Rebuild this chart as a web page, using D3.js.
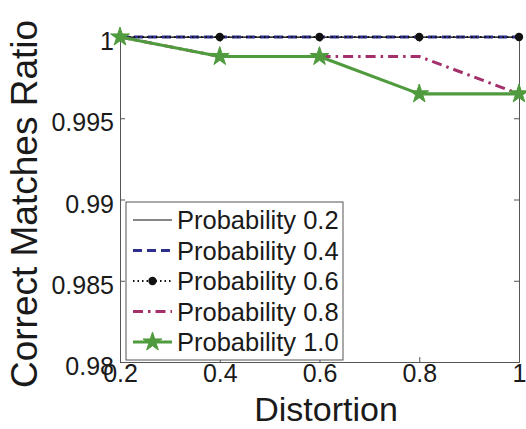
<!DOCTYPE html>
<html>
<head>
<meta charset="utf-8">
<script src="https://cdn.jsdelivr.net/npm/d3@7"></script>
<style>
  html, body { margin: 0; padding: 0; background: #ffffff; }
  svg { display: block; font-family: "Liberation Sans", Arial, sans-serif; }
</style>
</head>
<body>
<svg id="chart" width="526" height="429"></svg>
<script>
// Distortion levels along the x axis
const distortion = [0.2, 0.4, 0.6, 0.8, 1.0];

// Correct matches ratio for each probability setting
const prob02 = [1, 1, 1, 1, 1];
const prob04 = [1, 1, 1, 1, 1];
const prob06 = [1, 1, 1, 1, 1];
const prob08 = [1, 0.9988, 0.9988, 0.9988, 0.9965];
const prob10 = [1, 0.9988, 0.9988, 0.9965, 0.9965];

const seriesNames = ["Probability 0.2", "Probability 0.4", "Probability 0.6", "Probability 0.8", "Probability 1.0"];

const xTicks = [0.2, 0.4, 0.6, 0.8, 1];
const xTickLabels = ["0.2", "0.4", "0.6", "0.8", "1"];
const yTicks = [0.98, 0.985, 0.99, 0.995, 1];
const yTickLabels = ["0.98", "0.985", "0.99", "0.995", "1"];

const series = [
  { name: seriesNames[0], values: prob02, color: "#111111", width: 1.2, dash: null, marker: null },
  { name: seriesNames[1], values: prob04, color: "#2e2f8c", width: 3, dash: "9,5", marker: null },
  { name: seriesNames[2], values: prob06, color: "#111111", width: 1.8, dash: "1.5,3", marker: "dot" },
  { name: seriesNames[3], values: prob08, color: "#a3306a", width: 3, dash: "10,5,2.5,5", marker: null },
  { name: seriesNames[4], values: prob10, color: "#4f9b3e", width: 3.2, dash: null, marker: "star" }
];

const svg = d3.select("#chart");
const plotLeft = 120, plotRight = 519, plotTop = 37, plotBottom = 362;

const x = d3.scaleLinear().domain([0.2, 1]).range([plotLeft, plotRight]);
const y = d3.scaleLinear().domain([0.98, 1]).range([plotBottom, plotTop]);

const axisColor = "#555555";
const textColor = "#1a1a1a";

// Inward ticks on all four sides (box axes)
const gx = svg.append("g").attr("transform", `translate(0,${plotBottom})`)
  .call(d3.axisBottom(x).tickValues(xTicks).tickSize(-5).tickPadding(7)
    .tickFormat((d, i) => xTickLabels[i]));
const gxTop = svg.append("g").attr("transform", `translate(0,${plotTop})`)
  .call(d3.axisTop(x).tickValues(xTicks).tickSize(-5).tickFormat(""));
const gy = svg.append("g").attr("transform", `translate(${plotLeft},0)`)
  .call(d3.axisLeft(y).tickValues(yTicks).tickSize(-5).tickPadding(6)
    .tickFormat((d, i) => yTickLabels[i]));
const gyRight = svg.append("g").attr("transform", `translate(${plotRight},0)`)
  .call(d3.axisRight(y).tickValues(yTicks).tickSize(-5).tickFormat(""));

[gx, gxTop, gy, gyRight].forEach(g => {
  g.select(".domain").attr("stroke", axisColor).attr("stroke-width", 1);
  g.selectAll(".tick line").attr("stroke", axisColor).attr("stroke-width", 1);
  g.selectAll(".tick text").attr("fill", textColor).attr("font-size", 25)
    .attr("font-family", "'Liberation Sans', Arial, sans-serif");
});
gy.selectAll(".tick text").attr("dy", "0.5em");
gx.selectAll(".tick text").attr("dy", "0.52em");

// Axis titles
svg.append("text")
  .attr("x", 326).attr("y", 421)
  .attr("text-anchor", "middle")
  .attr("font-size", 34)
  .attr("fill", textColor)
  .text("Distortion");

svg.append("text")
  .attr("transform", "translate(37,204) rotate(-90)")
  .attr("text-anchor", "middle")
  .attr("font-size", 37)
  .attr("fill", textColor)
  .text("Correct Matches Ratio");

const line = d3.line().x((d, i) => x(distortion[i])).y(d => y(d));
const star = d3.symbol().type(d3.symbolStar).size(110);

function drawMarker(g, type, cx, cy, color) {
  if (type === "dot") {
    g.append("circle").attr("cx", cx).attr("cy", cy).attr("r", 4.2).attr("fill", "#111111");
  } else if (type === "star") {
    g.append("path").attr("d", star)
      .attr("transform", `translate(${cx},${cy})`)
      .attr("fill", color).attr("stroke", color).attr("stroke-width", 1);
  }
}

const plot = svg.append("g");
series.forEach(s => {
  plot.append("path")
    .datum(s.values)
    .attr("d", line)
    .attr("fill", "none")
    .attr("stroke", s.color)
    .attr("stroke-width", s.width)
    .attr("stroke-dasharray", s.dash)
    .attr("stroke-linejoin", "round");
  if (s.marker) {
    s.values.forEach((v, i) => drawMarker(plot, s.marker, x(distortion[i]), y(v), s.color));
  }
});

// Legend
const legend = svg.append("g");
legend.append("rect")
  .attr("x", 126).attr("y", 202).attr("width", 217).attr("height", 158)
  .attr("fill", "#ffffff").attr("stroke", axisColor).attr("stroke-width", 1);

const rowY = d3.scalePoint().domain(seriesNames).range([220, 342]);
series.forEach(s => {
  const ry = rowY(s.name);
  legend.append("line")
    .attr("x1", 133).attr("x2", 172).attr("y1", ry).attr("y2", ry)
    .attr("stroke", s.color).attr("stroke-width", s.width)
    .attr("stroke-dasharray", s.dash);
  if (s.marker) drawMarker(legend, s.marker, 152.5, ry, s.color);
  legend.append("text")
    .attr("x", 177).attr("y", ry).attr("dy", "0.36em")
    .attr("font-size", 25.5).attr("fill", textColor)
    .text(s.name);
});
</script>
</body>
</html>
